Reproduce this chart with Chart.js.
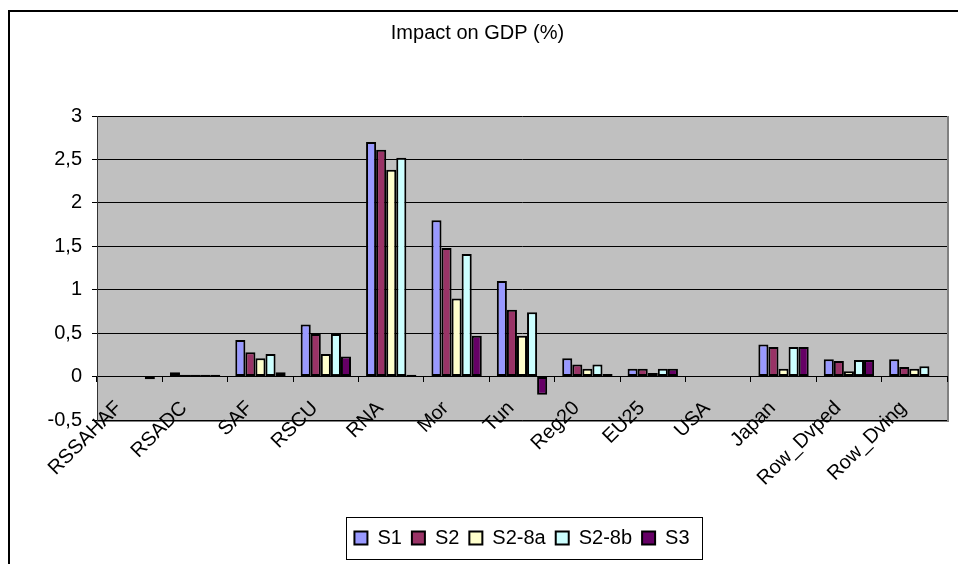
<!DOCTYPE html>
<html>
<head>
<meta charset="utf-8">
<script src="https://cdn.jsdelivr.net/npm/chart.js@4/dist/chart.umd.min.js"></script>
<style>
  body { margin: 0; background: #fff; }
  canvas { display: block; }
</style>
</head>
<body>
<canvas id="chart" width="958" height="564" style="width:958px;height:564px"></canvas>
<script>
const categories = ['RSSAHAF', 'RSADC', 'SAF', 'RSCU', 'RNA', 'Mor', 'Tun', 'Reg20', 'EU25', 'USA', 'Japan', 'Row_Dvped', 'Row_Dving'];
const s1 = [0, 0.05, 0.42, 0.60, 2.70, 1.80, 1.10, 0.21, 0.09, 0, 0.37, 0.20, 0.20];
const s2 = [0, 0.02, 0.28, 0.49, 2.61, 1.48, 0.77, 0.14, 0.09, 0, 0.34, 0.18, 0.11];
const s2_8a = [0, 0.02, 0.21, 0.26, 2.38, 0.90, 0.47, 0.09, 0.04, 0, 0.09, 0.06, 0.09];
const s2_8b = [0, 0.02, 0.26, 0.49, 2.52, 1.41, 0.74, 0.14, 0.09, 0, 0.34, 0.19, 0.12];
const s3 = [-0.03, 0.02, 0.05, 0.23, 0.02, 0.47, -0.21, 0.03, 0.09, 0, 0.34, 0.19, 0];
const seriesNames = ['S1', 'S2', 'S2-8a', 'S2-8b', 'S3'];
const seriesColors = ['#9999ff', '#993366', '#ffffcc', '#ccffff', '#660066'];
const yMin = -0.5, yMax = 3, yStep = 0.5;

Chart.defaults.font.family = 'Arial, "Liberation Sans", sans-serif';
Chart.defaults.color = '#000';

// grey plot area, frame round the chart, box round the legend
const excelLook = {
  id: 'excelLook',
  beforeDraw(chart) {
    const {ctx, chartArea: a} = chart;
    ctx.save();
    ctx.fillStyle = '#c0c0c0';
    ctx.fillRect(a.left, a.top, a.right - a.left, a.bottom - a.top);
    ctx.strokeStyle = '#808080';
    ctx.lineWidth = 2;
    ctx.beginPath();
    ctx.moveTo(a.right + 1, a.top);
    ctx.lineTo(a.right + 1, a.bottom + 1);
    ctx.lineTo(a.left, a.bottom + 1);
    ctx.stroke();
    ctx.strokeStyle = '#000';
    ctx.strokeRect(9, 11, 1000, 600);
    ctx.restore();
  },
  afterDraw(chart) {
    const lg = chart.legend;
    const boxes = lg.legendHitBoxes;
    if (!boxes || !boxes.length) return;
    const first = boxes[0], last = boxes[boxes.length - 1];
    const ctx = chart.ctx;
    ctx.save();
    ctx.strokeStyle = '#000';
    ctx.lineWidth = 1;
    const x0 = Math.round(first.left - 8) + 0.5;
    const x1 = Math.round(last.left + last.width + 12) + 0.5;
    ctx.strokeRect(x0, Math.round(lg.top - 1) + 0.5, x1 - x0, Math.round(lg.height + 2));
    ctx.restore();
  }
};

const data = [s1, s2, s2_8a, s2_8b, s3];

new Chart(document.getElementById('chart'), {
  type: 'bar',
  data: {
    labels: categories,
    datasets: data.map((vals, i) => ({
      label: seriesNames[i],
      data: vals,
      backgroundColor: seriesColors[i],
      borderColor: '#000',
      borderWidth: 2,
      borderSkipped: false,
      categoryPercentage: 0.77,
      barPercentage: 1.0
    }))
  },
  options: {
    responsive: false,
    animation: false,
    devicePixelRatio: 1,
    layout: {
      padding: { left: 8, right: 11, top: 0, bottom: 6 }
    },
    scales: {
      x: {
        position: { y: 0 },
        grid: {
          drawOnChartArea: false,
          drawTicks: true,
          tickLength: 5,
          color: '#000',
          offset: true
        },
        border: { display: true, color: '#000', width: 1 },
        ticks: {
          autoSkip: false,
          maxRotation: 45,
          minRotation: 45,
          padding: 15,
          labelOffset: -11,
          font: { size: 20 }
        }
      },
      // the axis above sits on the zero line and takes no room, this one keeps the room under the plot
      xRoom: {
        type: 'category',
        position: 'bottom',
        grid: { display: false },
        border: { display: false },
        ticks: { display: false },
        afterFit(scale) { scale.height = 98; }
      },
      y: {
        min: yMin,
        max: yMax,
        grid: {
          color: '#000',
          lineWidth: 1,
          tickLength: 5
        },
        border: { display: true, color: '#333', width: 1 },
        ticks: {
          stepSize: yStep,
          padding: 10,
          font: { size: 20 },
          callback: v => String(v).replace('.', ',')
        },
        afterFit(scale) { scale.width = 89; }
      }
    },
    plugins: {
      title: {
        display: true,
        text: 'Impact on GDP (%)',
        font: { size: 20, weight: 'normal' },
        color: '#000',
        padding: { top: 21, bottom: 71 }
      },
      legend: {
        position: 'bottom',
        fullSize: false,
        labels: {
          boxWidth: 13,
          boxHeight: 13,
          padding: 10,
          font: { size: 20 }
        }
      },
      tooltip: { enabled: false }
    }
  },
  plugins: [excelLook]
});
</script>
</body>
</html>
